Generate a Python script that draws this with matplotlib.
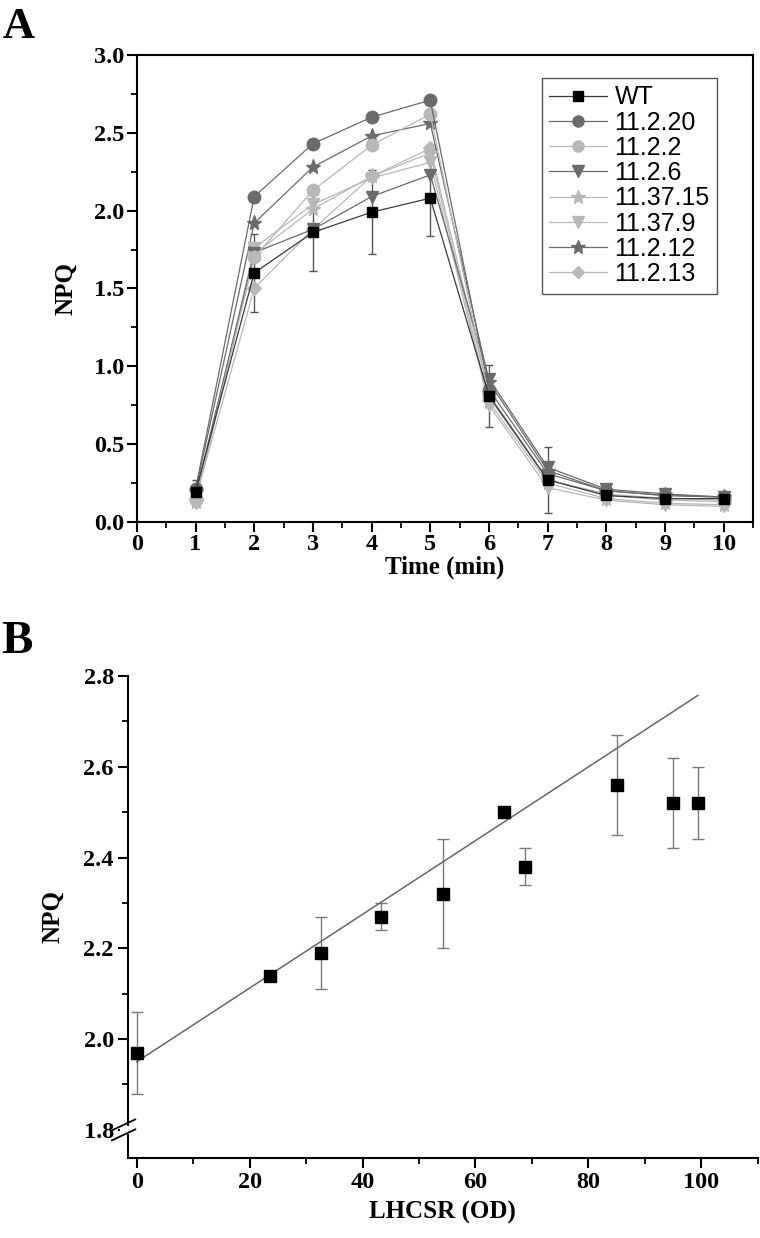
import numpy as np
import matplotlib
matplotlib.use('Agg')
import matplotlib.pyplot as plt
from matplotlib.ticker import MultipleLocator
from matplotlib.lines import Line2D

plt.rcParams['font.family'] = 'Liberation Serif'
plt.rcParams['font.weight'] = 'bold'
plt.rcParams['axes.labelweight'] = 'bold'
plt.rcParams['axes.linewidth'] = 1.5
plt.rcParams['xtick.major.width'] = 1.5
plt.rcParams['ytick.major.width'] = 1.5
plt.rcParams['xtick.minor.width'] = 1.3
plt.rcParams['ytick.minor.width'] = 1.3

# ---- panel A data: NPQ over time ----
time_min = [1, 2, 3, 4, 5, 6, 7, 8, 9, 10]
npq_wt = [0.19, 1.60, 1.86, 1.99, 2.08, 0.81, 0.27, 0.17, 0.15, 0.15]
npq_wt_err = [0.08, 0.25, 0.25, 0.27, 0.24, 0.20, 0.21, 0.03, 0.02, 0.02]
npq_11_2_20 = [0.21, 2.09, 2.43, 2.60, 2.71, 0.85, 0.31, 0.20, 0.17, 0.16]
npq_11_2_2 = [0.14, 1.70, 2.13, 2.42, 2.62, 0.80, 0.27, 0.17, 0.14, 0.13]
npq_11_2_6 = [0.17, 1.73, 1.88, 2.09, 2.23, 0.92, 0.35, 0.21, 0.18, 0.16]
npq_11_37_15 = [0.13, 1.72, 2.01, 2.22, 2.37, 0.77, 0.25, 0.15, 0.12, 0.11]
npq_11_37_9 = [0.12, 1.76, 2.04, 2.21, 2.31, 0.75, 0.22, 0.14, 0.11, 0.10]
npq_11_2_12 = [0.20, 1.92, 2.28, 2.48, 2.56, 0.90, 0.33, 0.20, 0.17, 0.16]
npq_11_2_13 = [0.15, 1.50, 1.88, 2.22, 2.40, 0.82, 0.27, 0.18, 0.15, 0.14]

# ---- panel B data: NPQ vs LHCSR ----
lhcsr_od = [0, 23.6, 32.6, 43.3, 54.2, 65.0, 68.8, 85.0, 95.0, 99.4]
npq_b = [1.97, 2.14, 2.19, 2.27, 2.32, 2.50, 2.38, 2.56, 2.52, 2.52]
npq_b_err = [0.09, 0.0, 0.08, 0.03, 0.12, 0.0, 0.04, 0.11, 0.10, 0.08]
fit_intercept = 1.950
fit_slope = 0.00812

dark = '#6b6b6b'
light = '#b8b8b8'
series = [
    ('WT', npq_wt, 's', '#000000', '#3a3a3a'),
    ('11.2.20', npq_11_2_20, 'o', dark, dark),
    ('11.2.2', npq_11_2_2, 'o', light, light),
    ('11.2.6', npq_11_2_6, 'v', dark, dark),
    ('11.37.15', npq_11_37_15, '*', light, light),
    ('11.37.9', npq_11_37_9, 'v', light, light),
    ('11.2.12', npq_11_2_12, '*', dark, dark),
    ('11.2.13', npq_11_2_13, 'D', light, light),
]
msizes = {'s': 7.5, 'o': 9, 'v': 9, '*': 11, 'D': 7.5}

TICK_FS = 17.5
LABEL_FS = 18

fig = plt.figure(figsize=(7.6, 12.38), dpi=100)

# ---------------- panel A ----------------
axA = fig.add_axes([0.180, 0.5784, 0.811, 0.3772])
axA.errorbar(time_min, npq_wt, yerr=npq_wt_err, fmt='none', ecolor='#555555',
             elinewidth=1.0, capsize=3, capthick=1.0, zorder=2)
for name, vals, mk, mcol, lcol in reversed(series):
    axA.plot(time_min, vals, color=lcol, lw=0.9, marker=mk, ms=msizes[mk],
             markerfacecolor=mcol, markeredgecolor=mcol, label=name,
             zorder=4 if name == 'WT' else 3)

axA.set_xlim(0, 10.5)
axA.set_ylim(0, 3.0)
axA.xaxis.set_major_locator(MultipleLocator(1))
axA.xaxis.set_minor_locator(MultipleLocator(0.5))
axA.yaxis.set_major_locator(MultipleLocator(0.5))
axA.yaxis.set_minor_locator(MultipleLocator(0.25))
axA.tick_params(which='major', direction='out', length=7, labelsize=TICK_FS,
                top=False, right=False, pad=2)
axA.tick_params(which='minor', direction='out', length=4, top=False, right=False)
axA.set_xticks(range(0, 11))
axA.yaxis.set_major_formatter(plt.FormatStrFormatter('%.1f'))
axA.set_xlabel('Time (min)', fontsize=LABEL_FS, labelpad=0)
axA.set_ylabel('NPQ', fontsize=LABEL_FS, labelpad=12)

handles = [Line2D([0], [0], color=lcol, lw=0.9, marker=mk, ms=msizes[mk] - 1,
                  markerfacecolor=mcol, markeredgecolor=mcol)
           for name, vals, mk, mcol, lcol in series]
leg = axA.legend(handles, [s[0] for s in series], loc='upper right',
                 bbox_to_anchor=(0.9416, 0.951), borderaxespad=0,
                 fancybox=False, edgecolor='#555555', framealpha=1,
                 handlelength=2.3, labelspacing=0.05, handletextpad=0.3,
                 borderpad=0.3, prop={'family': 'Liberation Sans', 'size': 18,
                                      'weight': 'normal'})
leg.get_frame().set_linewidth(1.0)

fig.text(0.004, 0.994, 'A', fontsize=32, fontweight='bold', va='top', ha='left')

# ---------------- panel B ----------------
axB = fig.add_axes([0.168, 0.0646, 0.829, 0.3894])
has_err = [e > 0 for e in npq_b_err]
axB.errorbar([x for x, h in zip(lhcsr_od, has_err) if h],
             [y for y, h in zip(npq_b, has_err) if h],
             yerr=[e for e, h in zip(npq_b_err, has_err) if h],
             fmt='none', ecolor='#7a7a7a', elinewidth=1.0, capsize=4.5,
             capthick=1.0, zorder=2)
fit_x = np.array([lhcsr_od[0], lhcsr_od[-1]])
axB.plot(fit_x, fit_intercept + fit_slope * fit_x, color='#666666', lw=1.1, zorder=3)
axB.plot(lhcsr_od, npq_b, 's', color='black', ms=8, zorder=4)

axB.set_xlim(-1.6, 110)
axB.set_ylim(1.738, 2.8)
axB.spines['top'].set_visible(False)
axB.spines['right'].set_visible(False)
axB.set_yticks([1.8, 2.0, 2.2, 2.4, 2.6, 2.8])
axB.yaxis.set_minor_locator(MultipleLocator(0.1))
axB.xaxis.set_major_locator(MultipleLocator(20))
axB.xaxis.set_minor_locator(MultipleLocator(10))
axB.set_xticks([0, 20, 40, 60, 80, 100])
axB.yaxis.set_major_formatter(plt.FormatStrFormatter('%.1f'))
axB.tick_params(which='major', direction='out', length=7, labelsize=TICK_FS, pad=3)
axB.tick_params(which='minor', direction='out', length=4)
axB.set_xlabel('LHCSR (OD)', fontsize=LABEL_FS, labelpad=6)
axB.set_ylabel('NPQ', fontsize=LABEL_FS, labelpad=14)

# axis break marks at 1.8
ytr = axB.get_yaxis_transform()
axB.plot([-0.012, 0.012], [1.8, 1.8], color='white', lw=6, transform=ytr,
         clip_on=False, zorder=5, solid_capstyle='butt')
for off in (-0.011, 0.011):
    axB.plot([-0.025, 0.012], [1.8 + off - 0.012, 1.8 + off + 0.012],
             color='black', lw=1.3, transform=ytr, clip_on=False, zorder=6)

fig.text(0.002, 0.498, 'B', fontsize=34, fontweight='bold', va='top', ha='left')

fig.savefig('out.png', dpi=100)
